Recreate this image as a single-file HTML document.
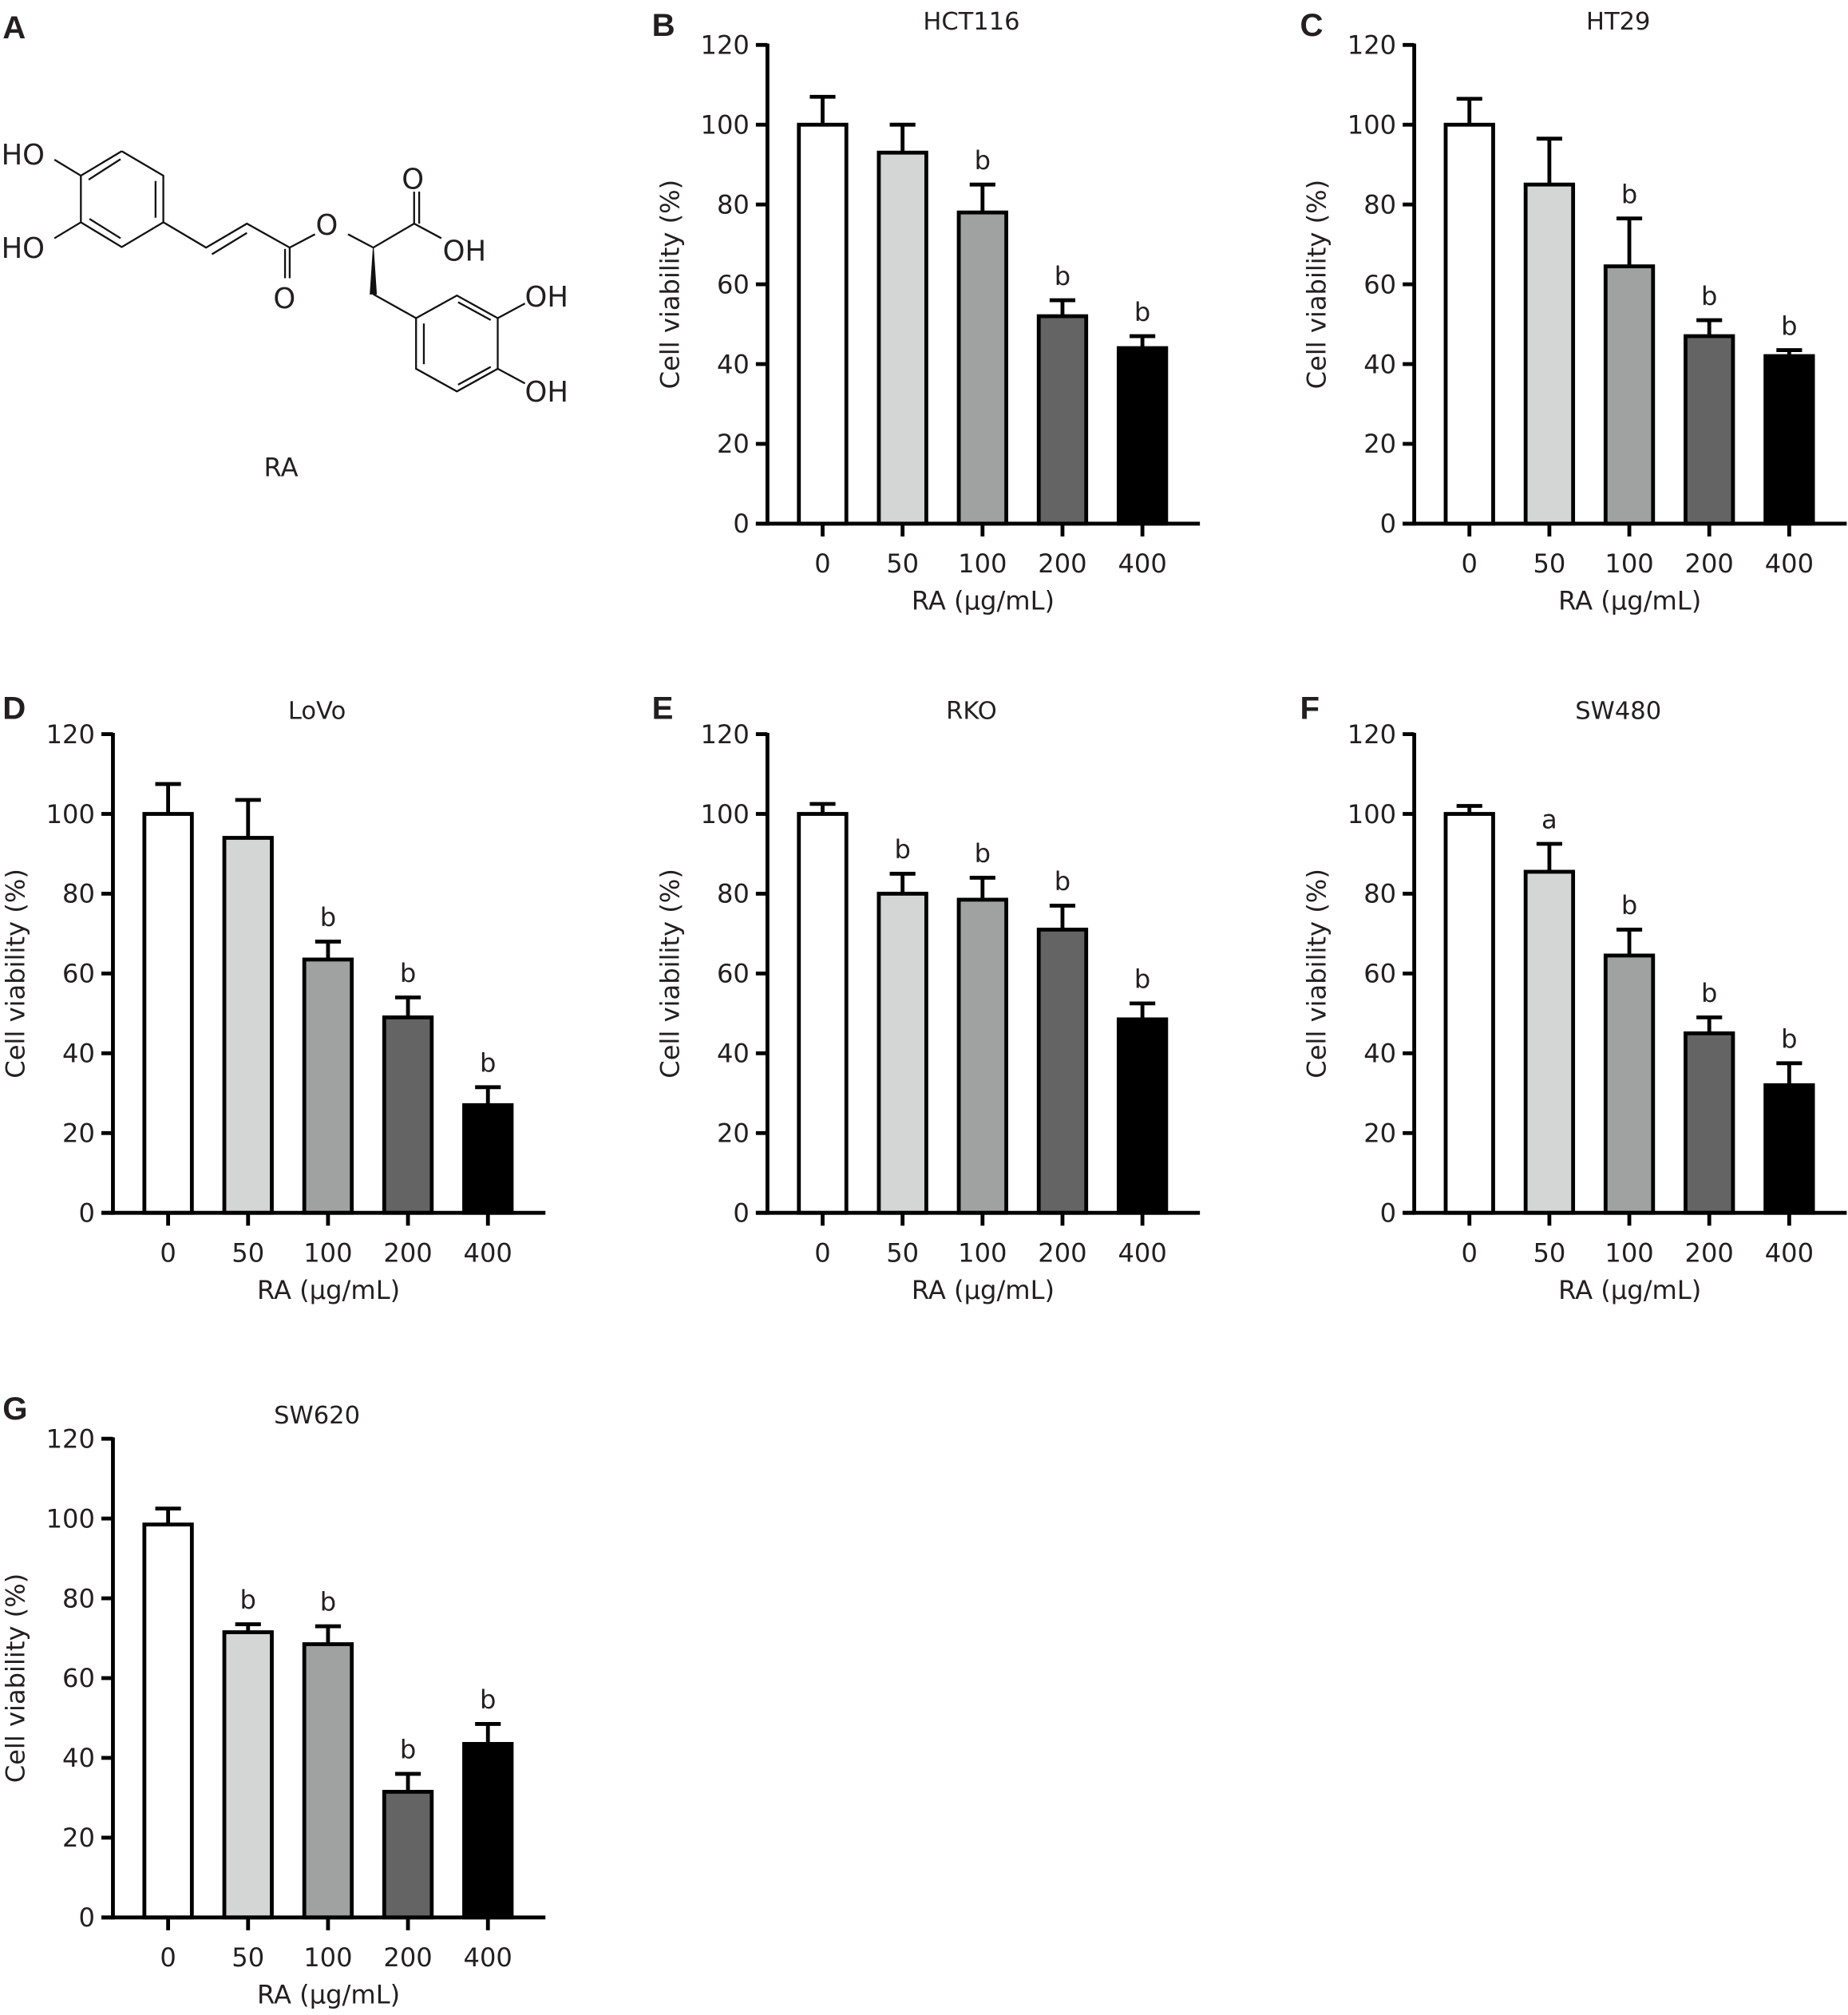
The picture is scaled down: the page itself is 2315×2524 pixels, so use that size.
<!DOCTYPE html>
<html><head><meta charset="utf-8">
<style>
html,body{margin:0;padding:0;background:#fff;}
svg{display:block;}
text{font-family:"DejaVu Sans","Liberation Sans",sans-serif;fill:#231f20;}
</style></head>
<body>
<svg id="s" width="2315" height="2524" viewBox="0 0 1440 1570" xmlns="http://www.w3.org/2000/svg">
<rect width="1440" height="1570" fill="#fff"/>
<g transform="translate(0,93.3) scale(0.303,0.2075)" fill="none" stroke="#111" stroke-width="2.3">
<polyline vector-effect="non-scaling-stroke" points="313,118 420,210 420,385 313,478 208,385 208,210 313,118"/>
<line vector-effect="non-scaling-stroke" x1="228" y1="225" x2="310" y2="148"/>
<line vector-effect="non-scaling-stroke" x1="400" y1="230" x2="400" y2="368"/>
<line vector-effect="non-scaling-stroke" x1="230" y1="372" x2="310" y2="445"/>
<line vector-effect="non-scaling-stroke" x1="140" y1="150" x2="208" y2="210"/>
<line vector-effect="non-scaling-stroke" x1="140" y1="445" x2="208" y2="385"/>
<polyline vector-effect="non-scaling-stroke" points="420,385 530,480 635,390 745,480 810,430"/>
<line vector-effect="non-scaling-stroke" x1="545" y1="505" x2="635" y2="425"/>
<line vector-effect="non-scaling-stroke" x1="745" y1="480" x2="745" y2="595"/>
<line vector-effect="non-scaling-stroke" x1="733" y1="485" x2="733" y2="595"/>
<polyline vector-effect="non-scaling-stroke" points="895,430 960,480 1065,390 1135,445"/>
<line vector-effect="non-scaling-stroke" x1="1065" y1="390" x2="1065" y2="270"/>
<line vector-effect="non-scaling-stroke" x1="1078" y1="390" x2="1078" y2="270"/>
<polygon points="960,480 952,655 968,655" fill="#111"/>
<line vector-effect="non-scaling-stroke" x1="960" y1="655" x2="1070" y2="745"/>
<polyline vector-effect="non-scaling-stroke" points="1070,745 1175,660 1280,745 1280,935 1175,1020 1070,935 1070,745"/>
<line vector-effect="non-scaling-stroke" x1="1178" y1="685" x2="1262" y2="752"/>
<line vector-effect="non-scaling-stroke" x1="1090" y1="765" x2="1090" y2="918"/>
<line vector-effect="non-scaling-stroke" x1="1178" y1="995" x2="1262" y2="928"/>
<line vector-effect="non-scaling-stroke" x1="1280" y1="745" x2="1350" y2="690"/>
<line vector-effect="non-scaling-stroke" x1="1280" y1="935" x2="1350" y2="990"/>
</g>
<g font-size="22" style="font-family:'Liberation Sans',sans-serif">
<text x="1" y="128">HO</text>
<text x="1" y="201">HO</text>
<text x="246" y="183">O</text>
<text x="313" y="147">O</text>
<text x="345" y="203">OH</text>
<text x="213" y="240">O</text>
<text x="409" y="239">OH</text>
<text x="409" y="313">OH</text>
</g>
<text x="219" y="371" font-size="20" text-anchor="middle">RA</text>
<g id="charts"></g>
</svg>
<script>
var panels=[
 {L:'A'},
 {L:'B',x0:598,yt:35,t:'HCT116',d:[[100,7,''],[93,7,''],[78,7,'b'],[52,4,'b'],[44,3,'b']]},
 {L:'C',x0:1102,yt:35,t:'HT29',d:[[100,6.5,''],[85,11.5,''],[64.5,12,'b'],[47,4,'b'],[42,1.5,'b']]},
 {L:'D',x0:88,yt:572,t:'LoVo',d:[[100,7.5,''],[94,9.5,''],[63.5,4.5,'b'],[49,5,'b'],[27,4.5,'b']]},
 {L:'E',x0:598,yt:572,t:'RKO',d:[[100,2.5,''],[80,5,'b'],[78.5,5.5,'b'],[71,6,'b'],[48.5,4,'b']]},
 {L:'F',x0:1102,yt:572,t:'SW480',d:[[100,2,''],[85.5,7,'a'],[64.5,6.5,'b'],[45,4,'b'],[32,5.5,'b']]},
 {L:'G',x0:88,yt:1121,t:'SW620',d:[[98.5,4,''],[71.5,2,'b'],[68.5,4.5,'b'],[31.5,4.5,'b'],[43.5,5,'b']]}
];
var cols=['#ffffff','#d4d5d5','#a0a1a1','#656465','#000000'];
var cats=['0','50','100','200','400'];
var h='';
var lpos={A:[2,30],B:[508,28],C:[1013,28],D:[2,560],E:[508,560],F:[1013,560],G:[2,1106]};
panels.forEach(function(p){
 var lp=lpos[p.L];
 h+='<text x="'+lp[0]+'" y="'+lp[1]+'" font-size="25" font-weight="bold" style="font-family:\'Liberation Sans\',sans-serif">'+p.L+'</text>';
 if(!p.d)return;
 var x0=p.x0,yt=p.yt,yb=yt+373,k=373/120;
 function Y(v){return yb-v*k;}
 h+='<text x="'+(x0+159)+'" y="'+(yt-12)+'" font-size="19" text-anchor="middle">'+p.t+'</text>';
 var cy=(yt+yb)/2;
 h+='<text x="'+(x0-69)+'" y="'+cy+'" font-size="20" text-anchor="middle" transform="rotate(-90 '+(x0-69)+' '+cy+')">Cell viability (%)</text>';
 for(var v=0;v<=120;v+=20){
  var y=Y(v);
  h+='<line x1="'+(x0-9)+'" y1="'+y+'" x2="'+x0+'" y2="'+y+'" stroke="#000" stroke-width="3"/>';
  h+='<text x="'+(x0-14)+'" y="'+(y+7)+'" font-size="20" text-anchor="end">'+v+'</text>';
 }
 p.d.forEach(function(d,i){
  var cx=x0+43+i*62.3,w=37;
  var top=Y(d[0]),et=Y(d[0]+d[1]);
  h+='<line x1="'+cx+'" y1="'+top+'" x2="'+cx+'" y2="'+et+'" stroke="#000" stroke-width="3"/>';
  h+='<line x1="'+(cx-10)+'" y1="'+et+'" x2="'+(cx+10)+'" y2="'+et+'" stroke="#000" stroke-width="3"/>';
  h+='<rect x="'+(cx-w/2)+'" y="'+top+'" width="'+w+'" height="'+(yb-top)+'" fill="'+cols[i]+'" stroke="#000" stroke-width="3"/>';
  if(d[2])h+='<text x="'+cx+'" y="'+(et-12)+'" font-size="20" text-anchor="middle">'+d[2]+'</text>';
  h+='<line x1="'+cx+'" y1="'+yb+'" x2="'+cx+'" y2="'+(yb+10)+'" stroke="#000" stroke-width="3"/>';
  h+='<text x="'+cx+'" y="'+(yb+38)+'" font-size="20" text-anchor="middle">'+cats[i]+'</text>';
 });
 h+='<line x1="'+x0+'" y1="'+(yt-1)+'" x2="'+x0+'" y2="'+(yb+1.5)+'" stroke="#000" stroke-width="3"/>';
 h+='<line x1="'+(x0-9)+'" y1="'+yb+'" x2="'+(x0+337)+'" y2="'+yb+'" stroke="#000" stroke-width="3"/>';
 h+='<text x="'+(x0+168)+'" y="'+(yb+67)+'" font-size="20" text-anchor="middle">RA (μg/mL)</text>';
});
document.getElementById('charts').innerHTML=h;
</script>
</body></html>
